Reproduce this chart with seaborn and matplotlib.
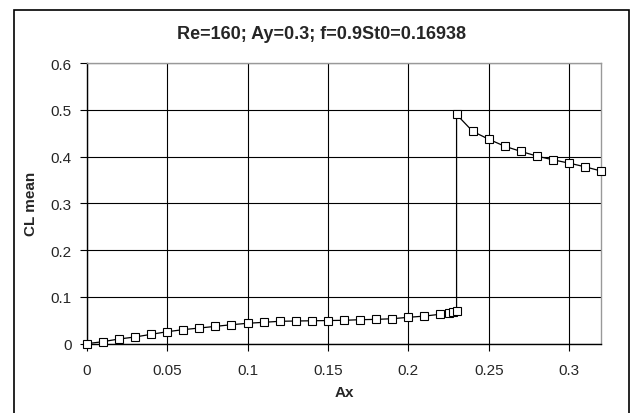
import matplotlib
matplotlib.use("Agg")
import matplotlib.pyplot as plt
import seaborn as sns
import pandas as pd
from matplotlib.patches import Rectangle

ax_values = [0.0, 0.01, 0.02, 0.03, 0.04, 0.05, 0.06, 0.07, 0.08, 0.09, 0.10,
             0.11, 0.12, 0.13, 0.14, 0.15, 0.16, 0.17, 0.18, 0.19, 0.20,
             0.21, 0.22, 0.225, 0.2275, 0.23,
             0.23, 0.24, 0.25, 0.26, 0.27, 0.28, 0.29, 0.30, 0.31, 0.32]
cl_mean = [0.0, 0.0043, 0.010, 0.0143, 0.020, 0.0256, 0.030, 0.0335, 0.037, 0.0406, 0.0436,
           0.0457, 0.0479, 0.0485, 0.049, 0.0495, 0.050, 0.0513, 0.052, 0.0534, 0.0564,
           0.059, 0.063, 0.065, 0.067, 0.069,
           0.490, 0.454, 0.437, 0.422, 0.411, 0.401, 0.393, 0.386, 0.378, 0.369]
x_ticks = [0, 0.05, 0.1, 0.15, 0.2, 0.25, 0.3]
x_tick_labels = ["0", "0.05", "0.1", "0.15", "0.2", "0.25", "0.3"]
y_ticks = [0, 0.1, 0.2, 0.3, 0.4, 0.5, 0.6]
y_tick_labels = ["0", "0.1", "0.2", "0.3", "0.4", "0.5", "0.6"]
title = "Re=160; Ay=0.3; f=0.9St0=0.16938"

sns.set_style("white")
plt.rcParams['font.family'] = ['Liberation Sans', 'DejaVu Sans']

df = pd.DataFrame({"Ax": ax_values, "CL": cl_mean})

W, H = 634, 414
fig = plt.figure(figsize=(W / 100, H / 100), dpi=100)
left, right, top, bottom = 86.7, 601.3, 64, 344.7
ax = fig.add_axes([left / W, 1 - bottom / H, (right - left) / W, (bottom - top) / H])

sns.lineplot(data=df, x="Ax", y="CL", sort=False, estimator=None, ax=ax,
             color="black", linewidth=0.9, marker="s", markersize=5.2,
             markerfacecolor="white", markeredgecolor="black", markeredgewidth=0.8,
             zorder=5, clip_on=False)

ax.set_xlim(0, 0.32)
ax.set_ylim(0, 0.6)
ax.set_xticks(x_ticks)
ax.set_xticklabels(x_tick_labels)
ax.set_yticks(y_ticks)
ax.set_yticklabels(y_tick_labels)
ax.grid(True, color="black", linewidth=0.8)
ax.set_axisbelow(True)
for s in ["top", "right"]:
    ax.spines[s].set_color("#999999")
    ax.spines[s].set_linewidth(1.0)
for s in ["left", "bottom"]:
    ax.spines[s].set_color("black")
    ax.spines[s].set_linewidth(1.0)
ax.tick_params(axis="both", direction="out", length=5, width=0.8, color="black",
               labelsize=11, left=True, bottom=True)
ax.tick_params(axis="x", pad=9)
ax.tick_params(axis="y", pad=6)
ax.set_xlabel("Ax", fontsize=11, fontweight="bold", labelpad=6)
ax.set_ylabel("CL mean", fontsize=11, fontweight="bold", labelpad=9)

fig.text(322 / W, 1 - 34.5 / H, title, ha="center", va="center", fontsize=13, fontweight="bold")

fig.patches.append(Rectangle((13.5 / W, -0.02), (629 - 13.5) / W, 1.02 - 10.5 / H,
                             transform=fig.transFigure, fill=False,
                             edgecolor="black", linewidth=1.2))

fig.savefig("out.png", dpi=100)
